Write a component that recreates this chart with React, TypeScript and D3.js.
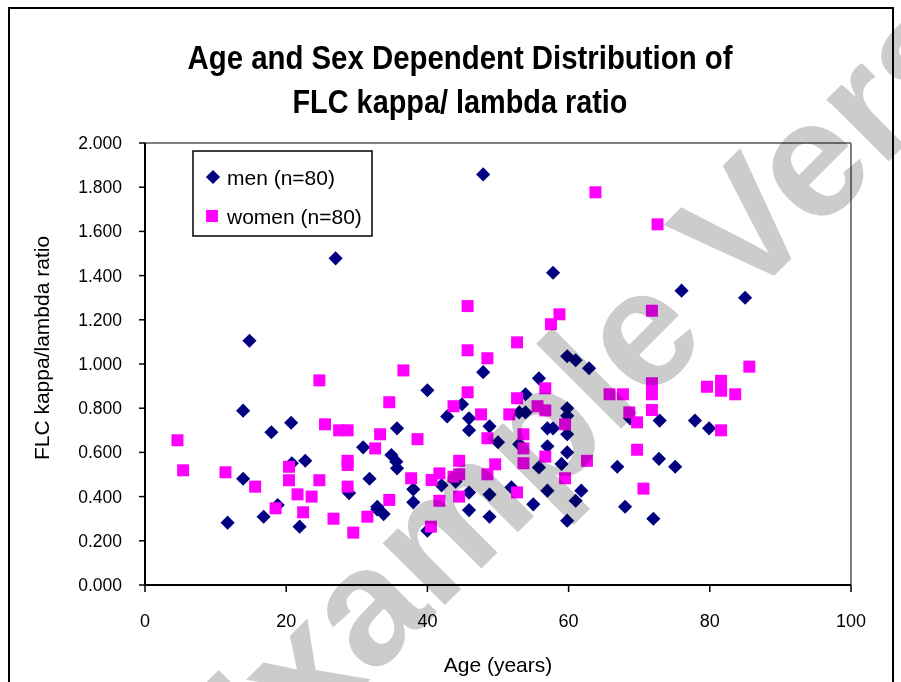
import React from "react";
import * as d3 from "d3";

const menAge = [27.0, 47.9, 57.8, 76.0, 85.0, 14.8, 13.9, 17.9, 20.7, 30.9, 13.9, 11.7, 16.8, 18.8, 20.8, 22.7, 21.9, 28.9, 31.8, 32.9, 59.8, 61.0, 62.9, 47.9, 40.0, 55.8, 53.9, 53.0, 53.9, 59.8, 59.8, 44.9, 42.8, 45.9, 45.9, 48.8, 50.0, 35.7, 59.8, 57.0, 57.8, 57.0, 53.0, 59.8, 55.8, 59.0, 61.8, 61.0, 59.8, 57.0, 55.0, 51.9, 48.8, 48.8, 45.9, 45.9, 44.0, 42.0, 38.0, 38.0, 34.9, 35.6, 35.7, 32.9, 33.8, 40.0, 68.7, 72.9, 77.9, 79.9, 66.9, 72.8, 75.1, 68.0, 72.0];
const menRatio = [1.478, 1.858, 1.413, 1.332, 1.300, 1.105, 0.789, 0.691, 0.734, 0.623, 0.481, 0.282, 0.309, 0.362, 0.551, 0.562, 0.264, 0.416, 0.481, 0.342, 1.035, 1.017, 0.981, 0.963, 0.881, 0.935, 0.863, 0.781, 0.781, 0.800, 0.766, 0.818, 0.763, 0.754, 0.700, 0.718, 0.646, 0.709, 0.682, 0.709, 0.709, 0.628, 0.637, 0.600, 0.532, 0.548, 0.427, 0.381, 0.291, 0.427, 0.365, 0.442, 0.409, 0.309, 0.418, 0.339, 0.468, 0.451, 0.433, 0.374, 0.588, 0.558, 0.528, 0.354, 0.321, 0.246, 0.754, 0.744, 0.744, 0.709, 0.535, 0.571, 0.535, 0.354, 0.300];

const womenAge = [63.8, 72.6, 71.8, 85.6, 79.6, 81.6, 81.6, 83.6, 65.8, 67.7, 71.8, 71.8, 71.8, 68.6, 69.7, 81.6, 69.7, 70.6, 24.7, 25.5, 27.5, 28.7, 4.6, 33.3, 32.6, 5.4, 11.4, 15.6, 18.5, 20.4, 20.4, 24.7, 21.6, 23.6, 22.4, 26.7, 29.5, 28.7, 28.7, 28.7, 31.5, 45.7, 58.7, 57.5, 52.7, 45.7, 48.5, 36.6, 45.7, 56.7, 34.6, 52.7, 55.6, 56.7, 51.6, 43.7, 47.6, 48.5, 38.6, 59.5, 53.6, 53.6, 53.6, 56.7, 62.6, 59.5, 52.7, 44.5, 49.6, 48.5, 44.5, 44.5, 43.7, 41.7, 40.6, 37.7, 41.7, 34.6, 40.5];
const womenRatio = [1.777, 1.632, 1.241, 0.988, 0.897, 0.924, 0.879, 0.863, 0.863, 0.863, 0.913, 0.863, 0.792, 0.781, 0.736, 0.700, 0.612, 0.436, 0.926, 0.727, 0.700, 0.700, 0.655, 0.682, 0.618, 0.519, 0.510, 0.445, 0.347, 0.535, 0.474, 0.474, 0.410, 0.400, 0.329, 0.300, 0.237, 0.562, 0.543, 0.445, 0.309, 1.262, 1.225, 1.180, 1.098, 1.062, 1.026, 0.971, 0.872, 0.890, 0.827, 0.845, 0.809, 0.790, 0.772, 0.809, 0.772, 0.664, 0.660, 0.727, 0.682, 0.618, 0.551, 0.581, 0.562, 0.483, 0.419, 0.400, 0.546, 0.501, 0.562, 0.501, 0.490, 0.505, 0.475, 0.483, 0.381, 0.385, 0.264];

const xTicks = [0, 20, 40, 60, 80, 100];
const yTicks = [0, 0.2, 0.4, 0.6, 0.8, 1.0, 1.2, 1.4, 1.6, 1.8, 2.0];
const titleLines = ["Age and Sex Dependent Distribution of", "FLC kappa/ lambda ratio"];
const legendLabels = ["men (n=80)", "women (n=80)"];

const FONT = "'Liberation Sans', Arial, sans-serif";

export default function App() {
  const W = 901, H = 682;
  const left = 145, right = 851, top = 143, bottom = 585;
  const x = d3.scaleLinear().domain([0, 100]).range([left, right]);
  const y = d3.scaleLinear().domain([0, 2]).range([bottom, top]);
  const diamond = d3.symbol(d3.symbolSquare, 100)() as string;
  const square = d3.symbol(d3.symbolSquare, 144)() as string;
  const navy = "#000080";
  const magenta = "#ff00ff";

  const men = menAge.map((a, i) => [a, menRatio[i]]);
  const women = womenAge.map((a, i) => [a, womenRatio[i]]);

  return (
    <svg width={W} height={H} style={{ position: "absolute", left: 0, top: 0, background: "#fff" }} fontFamily={FONT}>
      <rect x={0} y={0} width={W} height={H} fill="#fff" />
      <rect x={9} y={8} width={884} height={700} fill="none" stroke="#000" strokeWidth={2} />
      {/* title */}
      <text x={460} y={69} textAnchor="middle" fontSize={34} fontWeight="bold" textLength={545} lengthAdjust="spacingAndGlyphs">{titleLines[0]}</text>
      <text x={460} y={113} textAnchor="middle" fontSize={34} fontWeight="bold" textLength={335} lengthAdjust="spacingAndGlyphs">{titleLines[1]}</text>
      {/* plot frame */}
      <line x1={left} x2={right} y1={top} y2={top} stroke="#808080" strokeWidth={2} />
      <line x1={right} x2={right} y1={top} y2={bottom} stroke="#808080" strokeWidth={2} />
      {/* y axis */}
      <line x1={left} x2={left} y1={top} y2={bottom} stroke="#000" strokeWidth={2} />
      {yTicks.map((t) => (
        <g key={"y" + t}>
          <line x1={left - 6} x2={left} y1={y(t)} y2={y(t)} stroke="#000" strokeWidth={1.5} />
          <text x={122} y={y(t) + 6} textAnchor="end" fontSize={17.5}>{d3.format(".3f")(t)}</text>
        </g>
      ))}
      {/* x axis */}
      <line x1={left} x2={right} y1={bottom} y2={bottom} stroke="#000" strokeWidth={2} />
      {xTicks.map((t) => (
        <g key={"x" + t}>
          <line x1={x(t)} x2={x(t)} y1={bottom} y2={bottom + 7} stroke="#000" strokeWidth={1.5} />
          <text x={x(t)} y={627} textAnchor="middle" fontSize={18}>{t}</text>
        </g>
      ))}
      <text x={498} y={672} textAnchor="middle" fontSize={21}>Age (years)</text>
      <text transform={`translate(49,348) rotate(-90)`} textAnchor="middle" fontSize={21}>FLC kappa/lambda ratio</text>
      {/* points */}
      {men.map((d, i) => (
        <path key={"m" + i} d={diamond} transform={`translate(${x(d[0])},${y(d[1])}) rotate(45)`} fill={navy} />
      ))}
      {women.map((d, i) => (
        <path key={"w" + i} d={square} transform={`translate(${x(d[0])},${y(d[1])})`} fill={magenta} />
      ))}
      {/* legend */}
      <rect x={193} y={151} width={179} height={85} fill="#fff" stroke="#000" strokeWidth={1.5} />
      <path d={diamond} transform="translate(213,177) rotate(45)" fill={navy} />
      <text x={227} y={185} fontSize={21}>{legendLabels[0]}</text>
      <path d={square} transform="translate(212,216)" fill={magenta} />
      <text x={227} y={224} fontSize={21}>{legendLabels[1]}</text>
      {/* watermark */}
      <text transform="translate(228,822) rotate(-45)" fontSize={166} fontWeight="bold" fill="#cccccc" style={{ mixBlendMode: "multiply" }}>Example Version</text>
    </svg>
  );
}
